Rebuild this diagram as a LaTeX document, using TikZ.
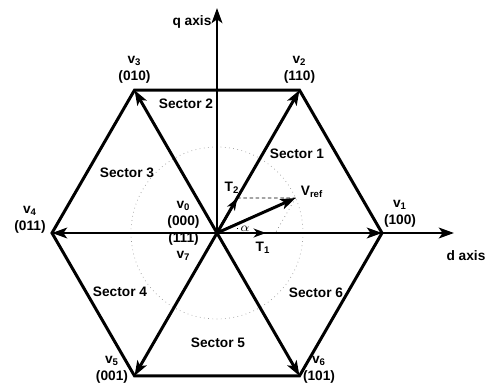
\documentclass[tikz,border=0pt]{standalone}
\usepackage{fontspec}
\setsansfont{Liberation Sans}
\usetikzlibrary{arrows.meta}

\tikzset{
    hexline/.style={line width=1.7pt, line join=miter},
    vec/.style={line width=1.7pt, -{Stealth[length=8.5pt,width=6pt,inset=2pt]}},
    smallvec/.style={line width=1.3pt, -{Stealth[length=7pt,width=5pt,inset=2pt]}},
    lbl/.style={font=\sffamily\bfseries\fontsize{7.8}{9.5}\selectfont, align=center, inner sep=0pt},
}

\begin{document}
\begin{tikzpicture}
    \useasboundingbox (-4.34,-3.08) rectangle (5.36,4.66);
    \coordinate (O) at (0,0);
    % corners of the hexagon
    \foreach[count=\i] \a in {0,60,...,300}{
        \coordinate (v\i) at (\a:3.3);
    }
    \draw[dotted, gray!80] (O) circle (1.72);
    \draw[hexline] (v1)--(v2)--(v3)--(v4)--(v5)--(v6)--cycle;
    \foreach \i in {1,...,6}{
        \draw[vec] (O) -- (v\i);
    }
    % axes
    \coordinate (qtip) at (0,4.5);
    \coordinate (dtip) at (4.74,0);
    \draw[vec] (O) -- (qtip);
    \draw[vec] (v1) -- (dtip);
    \node[lbl] (qlab) at (-0.5,4.22) {q axis};
    \node[lbl] (dlab) at (4.98,-0.46) {d axis};
    % reference vector
    \coordinate (vref) at (24:1.72);
    \coordinate (t1) at (1.167,0);
    \coordinate (t1a) at (0.98,0);
    \coordinate (t2) at (60:0.808);
    \draw[thin, dash pattern=on 2pt off 1.5pt] (t2) -- (vref);
    \draw[dotted, thin, gray] (vref) -- (t1);
    \draw[vec] (O) -- (vref);
    \draw[smallvec] (O) -- (t2);
    \draw[smallvec] (O) -- (t1a);
    \draw[thin, dotted] (0.42,0) arc (0:24:0.42);
    \node[font=\scriptsize] (alpha) at (0.56,0.08) {$\alpha$};
    \node[lbl] (vreflab) at (1.9,0.82) {V\textsubscript{ref}};
    \node[lbl] (t1lab) at (0.92,-0.3) {T\textsubscript{1}};
    \node[lbl] (t2lab) at (0.3,0.9) {T\textsubscript{2}};
    % switching states
    \foreach[count=\i] \x/\y/\c in {3.66/0.38/100, 1.65/3.26/110, -1.65/3.26/010,
        -3.74/0.26/011, -2.1/-2.74/001, 2.04/-2.74/101}{
        \node[lbl] (lv\i) at (\x,\y) {v\textsubscript{\i}\\(\c)};
    }
    \node[lbl] (lzero) at (-0.67,0.04) {v\textsubscript{0}\\(000)\\(111)\\v\textsubscript{7}};
    % sectors
    \foreach[count=\i] \x/\y in {1.6/1.58, -0.62/2.58, -1.8/1.2,
        -1.94/-1.18, 0.02/-2.2, 1.98/-1.2}{
        \node[lbl] (sec\i) at (\x,\y) {Sector \i};
    }
\end{tikzpicture}
\end{document}
